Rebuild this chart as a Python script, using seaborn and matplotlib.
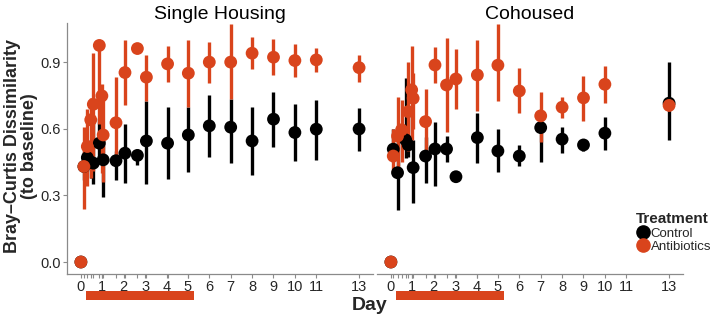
import numpy as np
import pandas as pd
import matplotlib
matplotlib.use("Agg")
import matplotlib.pyplot as plt
import matplotlib.transforms as mtransforms
from matplotlib.lines import Line2D
from matplotlib.patches import Rectangle
import seaborn as sns

nan = np.nan

# ---------------- data ----------------
treatments = ["Control", "Antibiotics"]
panels = ["Single Housing", "Cohoused"]

sh_days = [0, 0.14, 0.30, 0.46, 0.58, 0.86, 0.98, 1.04, 1.64, 2.06, 2.64, 3.06,
           4.05, 5.02, 6, 7, 8, 9, 10, 11, 13]
sh_ctrl_mean = [0.0, 0.43, 0.47, 0.45, 0.445, 0.535, nan, 0.46, 0.456, 0.49, 0.48, 0.545,
                0.535, 0.572, 0.613, 0.607, 0.545, 0.643, 0.583, 0.598, 0.599]
sh_ctrl_lo = [nan, 0.37, 0.41, 0.38, 0.35, 0.45, nan, 0.294, 0.37, 0.354, 0.437, 0.351,
              0.374, 0.407, 0.472, 0.445, 0.392, 0.52, 0.456, 0.46, 0.50]
sh_ctrl_hi = [nan, 0.50, 0.55, 0.55, 0.63, 0.65, nan, 0.55, 0.50, 0.62, 0.50, 0.727,
              0.70, 0.70, 0.752, 0.733, 0.697, 0.767, 0.712, 0.73, 0.692]
sh_abx_mean = [0.0, 0.43, 0.52, 0.64, 0.71, 0.975, 0.748, 0.572, 0.627, 0.853, 0.961, 0.832,
               0.892, 0.85, 0.90, 0.90, 0.94, 0.922, 0.907, 0.91, 0.875]
sh_abx_lo = [nan, 0.24, 0.34, 0.38, 0.41, 0.62, 0.40, 0.36, 0.445, 0.707, 0.95, 0.727,
             0.812, 0.70, 0.808, 0.733, 0.868, 0.842, 0.835, 0.854, 0.812]
sh_abx_hi = [nan, 0.61, 0.69, 0.74, 0.94, 0.98, 0.80, 0.75, 0.832, 1.0, 0.97, 0.932,
             0.973, 1.0, 0.99, 1.07, 1.015, 1.003, 0.982, 0.962, 0.932]

ch_days = [0, 0.11, 0.31, 0.50, 0.69, 0.81, 0.97, 1.04, 1.62, 2.06, 2.60, 3.04,
           4.04, 5, 6, 7, 8, 9, 10, 13]
ch_ctrl_mean = [0.0, 0.508, 0.402, nan, 0.55, 0.527, nan, 0.425, 0.477, 0.509, 0.509, 0.384,
                0.56, 0.50, 0.477, 0.605, 0.553, 0.527, 0.58, 0.715]
ch_ctrl_lo = [nan, 0.45, 0.234, nan, 0.47, 0.474, nan, 0.267, 0.355, 0.343, 0.448, nan,
              0.447, 0.407, 0.43, 0.452, 0.492, 0.50, 0.505, 0.55]
ch_ctrl_hi = [nan, 0.60, 0.565, nan, 0.83, 0.70, nan, 0.55, 0.565, 0.63, 0.568, nan,
              0.672, 0.598, 0.527, 0.66, 0.61, 0.55, 0.652, 0.90]
ch_abx_mean = [0.0, 0.477, 0.567, 0.595, nan, 0.677, 0.775, 0.737, 0.632, 0.887, 0.797, 0.824,
               0.842, 0.886, 0.77, 0.658, 0.697, 0.739, 0.80, 0.705]
ch_abx_lo = [nan, 0.40, 0.41, 0.45, nan, 0.50, 0.55, 0.60, 0.49, 0.805, 0.587, 0.688,
             0.68, 0.725, 0.67, 0.542, 0.647, 0.636, 0.715, 0.68]
ch_abx_hi = [nan, 0.60, 0.745, 0.73, nan, 0.90, 0.973, 0.85, 0.78, 0.967, 1.008, 0.96,
             1.0, 1.07, 0.875, 0.767, 0.745, 0.838, 0.884, 0.74]

day_labels = [0, 1, 2, 3, 4, 5, 6, 7, 8, 9, 10, 11, 13]
y_ticks = [0.0, 0.3, 0.6, 0.9]
abx_window = (0.25, 5.3)

# ---------------- build long table ----------------
rows = []
for panel, days, series in [
    ("Single Housing", sh_days,
     {"Control": (sh_ctrl_mean, sh_ctrl_lo, sh_ctrl_hi),
      "Antibiotics": (sh_abx_mean, sh_abx_lo, sh_abx_hi)}),
    ("Cohoused", ch_days,
     {"Control": (ch_ctrl_mean, ch_ctrl_lo, ch_ctrl_hi),
      "Antibiotics": (ch_abx_mean, ch_abx_lo, ch_abx_hi)}),
]:
    for tr in treatments:
        m, lo, hi = series[tr]
        for d, a, b, c in zip(days, m, lo, hi):
            rows.append(dict(panel=panel, Treatment=tr, day=d, mean=a, lo=b, hi=c))
df = pd.DataFrame(rows).dropna(subset=["mean"])

palette = {"Control": "#000000", "Antibiotics": "#D9441C"}

# ---------------- figure ----------------
sns.set_theme(style="white")
plt.rcParams["font.family"] = ["Liberation Sans", "DejaVu Sans"]

W, H = 714, 321
fig = plt.figure(figsize=(W / 100, H / 100), dpi=100)
axL = fig.add_axes([67 / W, 1 - 274 / H, 306 / W, 251 / H])
axR = fig.add_axes([377 / W, 1 - 274 / H, 306 / W, 251 / H])

axis_col = "#8a8a8a"
text_col = "#262626"

for ax, panel, days in [(axL, "Single Housing", sh_days), (axR, "Cohoused", ch_days)]:
    sub = df[df.panel == panel]
    # error bars first (all groups), then points
    for tr in treatments:
        s = sub[(sub.Treatment == tr)].dropna(subset=["lo", "hi"])
        ax.vlines(s["day"], s["lo"], s["hi"], color=palette[tr], linewidth=2.4, zorder=2)
    sns.scatterplot(data=sub, x="day", y="mean", hue="Treatment", hue_order=treatments,
                    palette=palette, s=85, linewidth=0, legend=False, ax=ax, zorder=3)
    ax.set_xlim(-0.65, 13.65)
    ax.set_ylim(-0.054, 1.076)
    ax.set_xticks(day_labels)
    ax.set_xticklabels([str(d) for d in day_labels])
    minor = [d for d in sorted(set(days)) if d not in day_labels]
    ax.set_xticks(minor, minor=True)
    ax.set_xlabel("")
    ax.set_ylabel("")
    ax.set_title(panel, fontsize=14, color="black", pad=3)
    for sp in ["top", "right"]:
        ax.spines[sp].set_visible(False)
    ax.spines["bottom"].set_color(axis_col)
    ax.spines["bottom"].set_linewidth(0.9)
    ax.tick_params(axis="x", which="both", bottom=True, length=3, width=0.8, color=axis_col,
                   labelsize=10.5, labelcolor=text_col, pad=1.5)
    # antibiotic window bar
    trans = mtransforms.blended_transform_factory(ax.transData, fig.transFigure)
    ax.add_patch(Rectangle((abx_window[0], 1 - 300 / H), abx_window[1] - abx_window[0], 9 / H,
                           transform=trans, color=palette["Antibiotics"], clip_on=False, lw=0))

axL.spines["left"].set_color(axis_col)
axL.spines["left"].set_linewidth(0.9)
axL.set_yticks(y_ticks)
axL.set_yticklabels([f"{v:.1f}" for v in y_ticks])
axL.tick_params(axis="y", left=True, length=3, width=0.8, color=axis_col,
                labelsize=10.5, labelcolor=text_col, pad=1.5)
axR.spines["left"].set_visible(False)
axR.set_yticks([])

fig.text(21 / W, 1 - 146 / H, "Bray\u2013Curtis Dissimilarity\n(to baseline)", rotation=90,
         ha="center", va="center", fontsize=13, fontweight="bold", linespacing=1.0)
fig.text(370 / W, 1 - 306 / H, "Day", ha="center", va="center", fontsize=14, fontweight="bold")

handles = [Line2D([], [], marker="o", linestyle="", markersize=9.5, color=palette[t]) for t in treatments]
leg = fig.legend(handles, treatments, title="Treatment", loc="upper left",
                 bbox_to_anchor=(636 / W, 1 - 212 / H), frameon=False, fontsize=9.5,
                 title_fontsize=11, handletextpad=0.0, labelspacing=0.1,
                 handlelength=1.1, borderaxespad=0, borderpad=0)
leg.get_title().set_fontweight("bold")
leg._legend_box.align = "left"

fig.savefig("out.png", dpi=100)
